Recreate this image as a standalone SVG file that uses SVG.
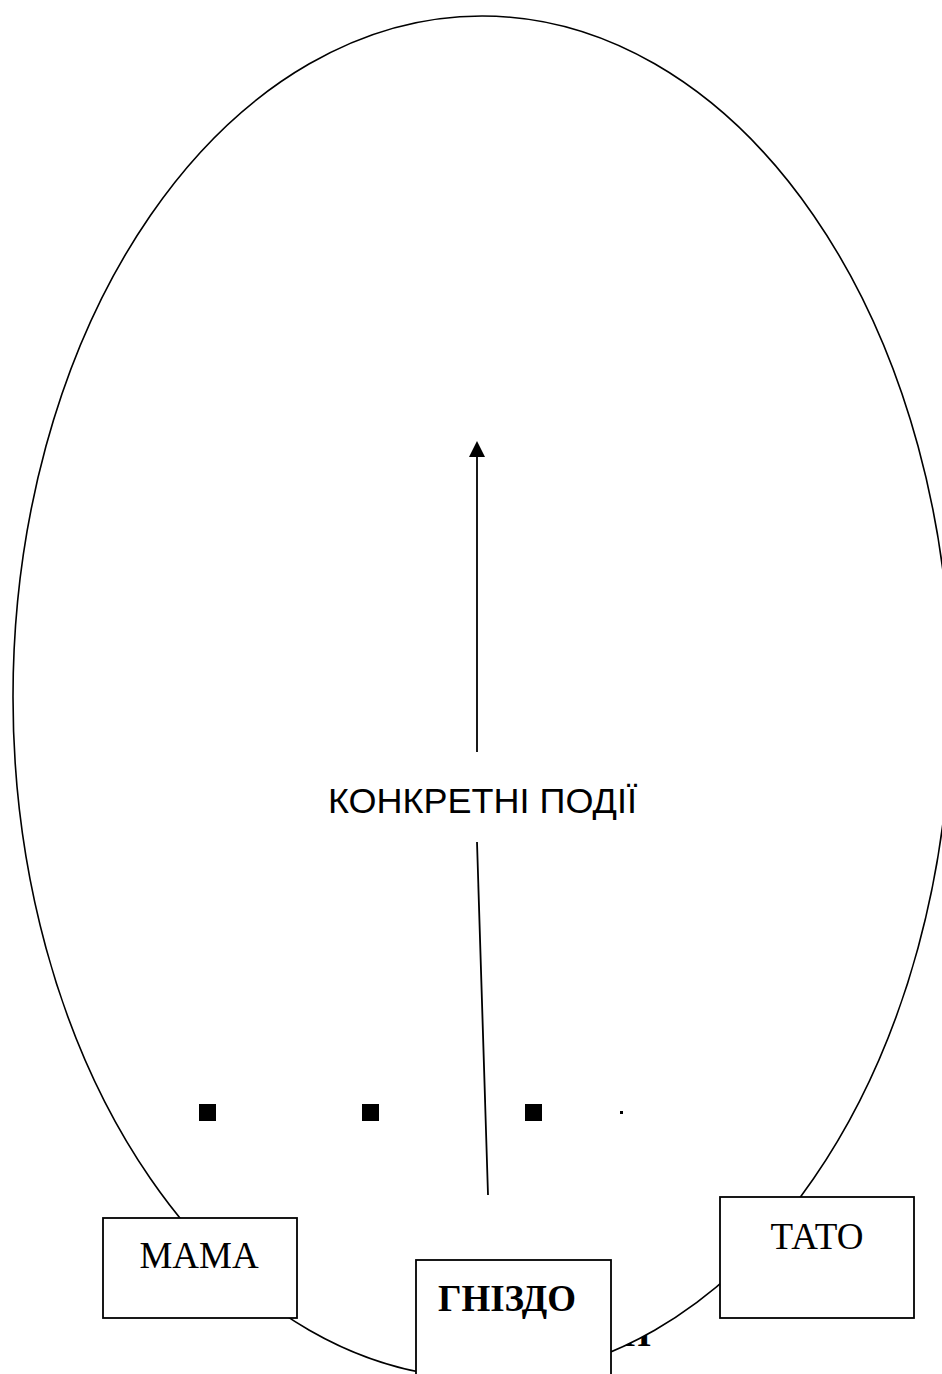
<svg xmlns="http://www.w3.org/2000/svg" width="942" height="1374" viewBox="0 0 942 1374">
<style>
.box{fill:#fff;stroke:#000;stroke-width:1.8}
.serif{font-family:"Liberation Serif","Times New Roman",serif;font-size:37px;fill:#000}
.bold{font-weight:bold}
.sans{font-family:"Liberation Sans",Arial,sans-serif;font-size:35px;fill:#000}
.line{stroke:#000;stroke-width:1.8;fill:none}
</style>
<rect width="942" height="1374" fill="#fff"/>
<text class="serif bold" x="622" y="1346" font-size="30">И</text>
<g id="ellipse">
<ellipse cx="482" cy="697" rx="469" ry="681" fill="#fff" stroke="#000" stroke-width="1.6"/>
</g>
<g id="connectors">
<line class="line" x1="477" y1="752" x2="477" y2="456"/>
<path d="M477,441 L469,457 L485,457 z" fill="#000"/>
<line class="line" x1="477" y1="842" x2="488" y2="1195"/>
</g>
<g id="label">
<text class="sans" x="328" y="813" textLength="309" lengthAdjust="spacingAndGlyphs">КОНКРЕТНІ ПОДІЇ</text>
</g>
<g id="dots">
<rect x="199" y="1104" width="17" height="17" fill="#000"/>
<rect x="362" y="1104" width="17" height="17" fill="#000"/>
<rect x="525" y="1104" width="17" height="17" fill="#000"/>
<rect x="620" y="1111" width="3" height="3" fill="#000"/>
</g>
<g id="mama">
<rect class="box" x="103" y="1218" width="194" height="100"/>
<text class="serif" x="199" y="1268" text-anchor="middle">МАМА</text>
</g>
<g id="tato">
<rect class="box" x="720" y="1197" width="194" height="121"/>
<text class="serif" x="817" y="1249" text-anchor="middle">ТАТО</text>
</g>
<g id="gnizdo">
<rect class="box" x="416" y="1260" width="195" height="130"/>
<text class="serif bold" x="507" y="1311" text-anchor="middle">ГНІЗДО</text>
</g>
</svg>
